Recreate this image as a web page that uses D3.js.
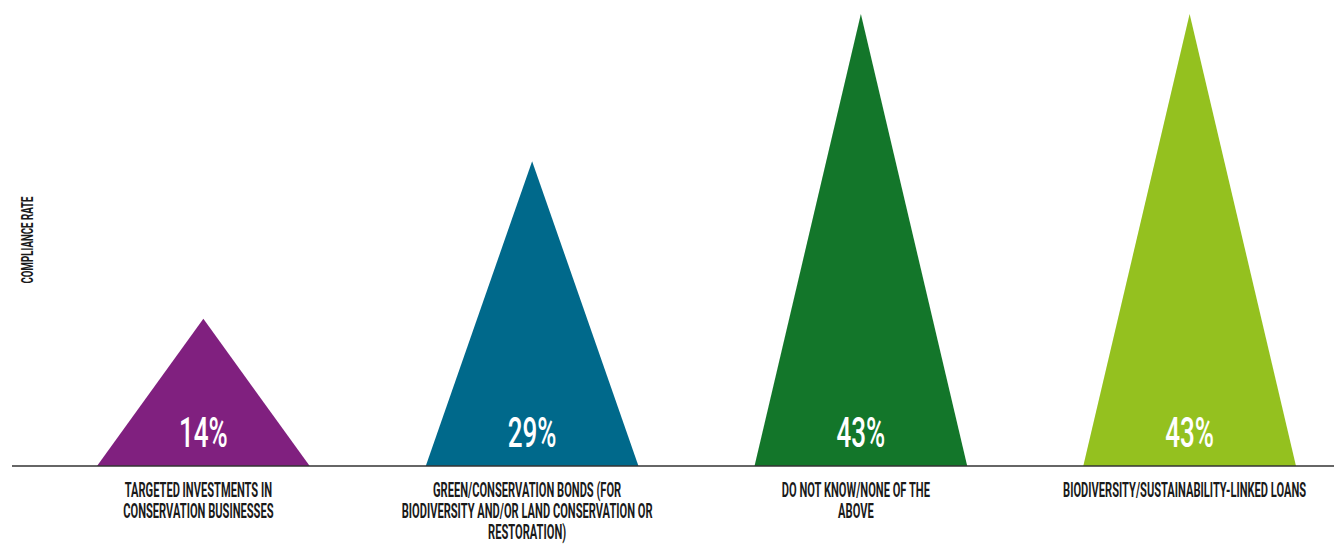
<!DOCTYPE html>
<html>
<head>
<meta charset="utf-8">
<script src="https://cdn.jsdelivr.net/npm/d3@7"></script>
<style>
  html, body { margin: 0; padding: 0; background: #ffffff; }
  svg { display: block; }
  text { font-family: "Roboto", "Liberation Sans", "DejaVu Sans", sans-serif; }
</style>
</head>
<body>
<svg id="chart" width="1334" height="546"></svg>
<script>
// Financial instruments and the share of respondents using each
const categories = [
  ["TARGETED INVESTMENTS IN", "CONSERVATION BUSINESSES"],
  ["GREEN/CONSERVATION BONDS (FOR", "BIODIVERSITY AND/OR LAND CONSERVATION OR", "RESTORATION)"],
  ["DO NOT KNOW/NONE OF THE", "ABOVE"],
  ["BIODIVERSITY/SUSTAINABILITY-LINKED LOANS"]
];
const values = [14, 29, 43, 43];
const colors = ["#80207f", "#00698b", "#13762a", "#94c11f"];
const yAxisTitle = "COMPLIANCE RATE";

const W = 1334, H = 546;
const baseY = 466;
const svg = d3.select("#chart");

const x = d3.scaleBand()
  .domain(d3.range(values.length))
  .range([50, 1343])
  .paddingInner(0.353)
  .paddingOuter(0.143);

const y = d3.scaleLinear()
  .domain([0, d3.max(values)])
  .range([baseY, 14]);

// condensed look: glyphs squeezed horizontally
const squeeze = 0.57;

// triangles: base spans the band, apex at the value
svg.append("g").selectAll("path")
  .data(values)
  .join("path")
  .attr("fill", (d, i) => colors[i])
  .attr("d", (d, i) => {
    const x0 = x(i), x1 = x(i) + x.bandwidth(), xm = x(i) + x.bandwidth() / 2;
    return `M${x0},${y(0)}L${xm},${y(d)}L${x1},${y(0)}Z`;
  });

// baseline axis
svg.append("line")
  .attr("x1", 12).attr("x2", W)
  .attr("y1", baseY).attr("y2", baseY)
  .attr("stroke", "#333")
  .attr("stroke-width", 1.5);

// value labels inside triangles
svg.append("g").selectAll("text")
  .data(values)
  .join("text")
  .attr("transform", (d, i) => `translate(${x(i) + x.bandwidth() / 2},${baseY - 19}) scale(0.62,1)`)
  .attr("text-anchor", "middle")
  .attr("fill", "#ffffff")
  .attr("font-size", 42)
  .attr("font-weight", 500)
  .text(d => d + "%");

// category labels under the axis
const cat = svg.append("g").selectAll("g")
  .data(categories)
  .join("g")
  .attr("transform", (d, i) => `translate(${x(i) + x.bandwidth() / 2 - 5},496.5) scale(${squeeze},1)`);

cat.selectAll("text")
  .data(d => d)
  .join("text")
  .attr("y", (d, j) => j * 21.5)
  .attr("text-anchor", "middle")
  .attr("font-size", 19.5)
  .attr("font-weight", "bold")
  .attr("fill", "#1a1a1a")
  .text(d => d);

// y axis title
svg.append("text")
  .attr("transform", `translate(33,240) rotate(-90) scale(${squeeze},1)`)
  .attr("text-anchor", "middle")
  .attr("font-size", 17)
  .attr("font-weight", "bold")
  .attr("fill", "#1a1a1a")
  .text(yAxisTitle);
</script>
</body>
</html>
